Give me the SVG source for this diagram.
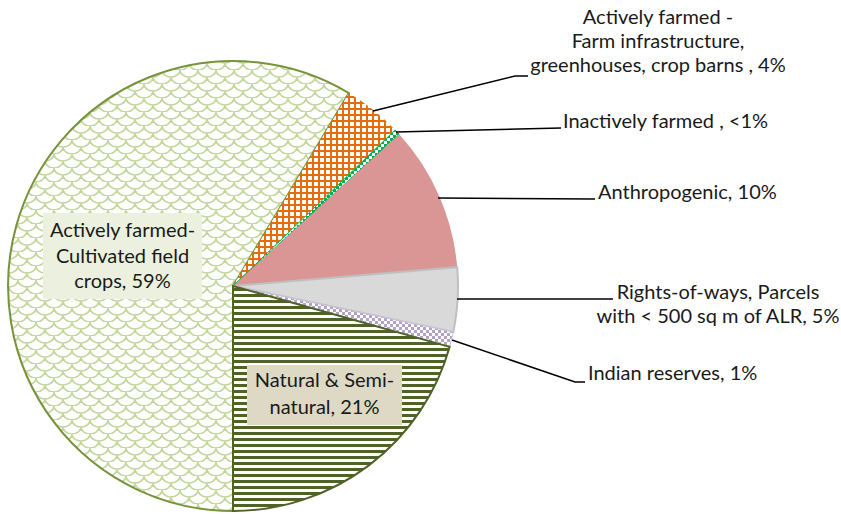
<svg xmlns="http://www.w3.org/2000/svg" width="841" height="516" viewBox="0 0 841 516">
<defs>
<pattern id="pCult" width="18" height="14" patternUnits="userSpaceOnUse">
<rect width="18" height="14" fill="#ffffff"/>
<path d="M0,0 A9,7 0 0 0 18,0 M-9,7 A9,7 0 0 0 9,7 M9,7 A9,7 0 0 0 27,7 M0,14 A9,7 0 0 0 18,14" fill="none" stroke="#C3D69B" stroke-width="1.6"/>
</pattern>
<pattern id="pGrid" width="6" height="6" patternUnits="userSpaceOnUse">
<rect width="6" height="6" fill="#ffffff"/>
<rect x="0" y="0" width="2" height="6" fill="#E46C0A"/>
<rect x="0" y="0" width="6" height="2" fill="#E46C0A"/>
</pattern>
<pattern id="pStripe" width="6" height="6" patternUnits="userSpaceOnUse">
<rect width="6" height="6" fill="#ffffff"/>
<rect x="0" y="0" width="6" height="3" fill="#4F6228"/>
</pattern>
<pattern id="pGreen" width="6" height="6" patternUnits="userSpaceOnUse">
<rect width="6" height="6" fill="#ffffff"/>
<rect x="0" y="0" width="3" height="3" fill="#00B050"/>
<rect x="3" y="3" width="3" height="3" fill="#00B050"/>
</pattern>
<pattern id="pPurple" width="6" height="6" patternUnits="userSpaceOnUse">
<rect width="6" height="6" fill="#ffffff"/>
<rect x="0" y="0" width="3" height="3" fill="#B3A2C7"/>
<rect x="3" y="3" width="3" height="3" fill="#B3A2C7"/>
</pattern>
</defs>
<style>
.lbl{font-family:Lato,"Liberation Sans",sans-serif;font-size:20px;fill:#1a1a1a}
.mid{text-anchor:middle}
.lead{fill:none;stroke:#000000;stroke-width:1.5}
</style>
<rect width="841" height="516" fill="#ffffff"/>
<g id="slices">
<g id="cultivated"><path d="M233,286 L233,511 A225,225 0 1 1 348.9,93.1 Z" fill="url(#pCult)" stroke="#77933C" stroke-width="2"/></g>
<g id="farm-infrastructure"><path d="M233,286 L348.9,93.1 A225,225 0 0 1 395.1,130.0 Z" fill="url(#pGrid)"/></g>
<g id="inactively-farmed"><path d="M233,286 L395.1,130.0 A225,225 0 0 1 399.2,134.3 Z" fill="url(#pGreen)" stroke="#00B050" stroke-width="1"/></g>
<g id="anthropogenic"><path d="M233,286 L399.2,134.3 A225,225 0 0 1 457.2,267.2 Z" fill="#D99694"/></g>
<g id="rights-of-ways"><path d="M233,286 L457.2,267.2 A225,225 0 0 1 453.3,332.0 Z" fill="#D9D9D9" stroke="#BFBFBF" stroke-width="2"/></g>
<g id="indian-reserves"><path d="M233,286 L453.3,332.0 A225,225 0 0 1 449.6,346.9 Z" fill="url(#pPurple)" stroke="#CCC1DA" stroke-width="1"/></g>
<g id="natural"><path d="M233,286 L449.6,346.9 A225,225 0 0 1 233,511 Z" fill="url(#pStripe)" stroke="#4F6228" stroke-width="2"/></g>
</g>
<g id="connectors">
<polyline class="lead" points="373,111 515,76 528,76"/>
<polyline class="lead" points="396,132 561,128"/>
<polyline class="lead" points="438,198 595,199"/>
<polyline class="lead" points="457,299 613,299"/>
<polyline class="lead" points="452,340 575,382 585,382"/>
</g>
<g id="label-cultivated">
<rect x="43" y="213" width="159" height="86" fill="#EBF1DE"/>
<text class="lbl mid" x="122.5" y="237">Actively farmed-</text>
<text class="lbl mid" x="122.5" y="263">Cultivated field</text>
<text class="lbl mid" x="122.5" y="288">crops, 59%</text>
</g>
<g id="label-natural">
<rect x="247" y="365" width="155" height="60" fill="#DDD9C4"/>
<text class="lbl mid" x="324.5" y="387">Natural &amp; Semi-</text>
<text class="lbl mid" x="324.5" y="414">natural, 21%</text>
</g>
<g id="label-farm">
<text class="lbl mid" x="658" y="24">Actively farmed -</text>
<text class="lbl mid" x="658" y="48">Farm infrastructure,</text>
<text class="lbl mid" x="658" y="72">greenhouses, crop barns , 4%</text>
</g>
<g id="label-inactive"><text class="lbl" x="563" y="128">Inactively farmed , &lt;1%</text></g>
<g id="label-anthro"><text class="lbl" x="598" y="199">Anthropogenic, 10%</text></g>
<g id="label-rights">
<text class="lbl mid" x="718" y="299">Rights-of-ways, Parcels</text>
<text class="lbl mid" x="718" y="323">with &lt; 500 sq m of ALR, 5%</text>
</g>
<g id="label-indian"><text class="lbl" x="588" y="380">Indian reserves, 1%</text></g>
</svg>
